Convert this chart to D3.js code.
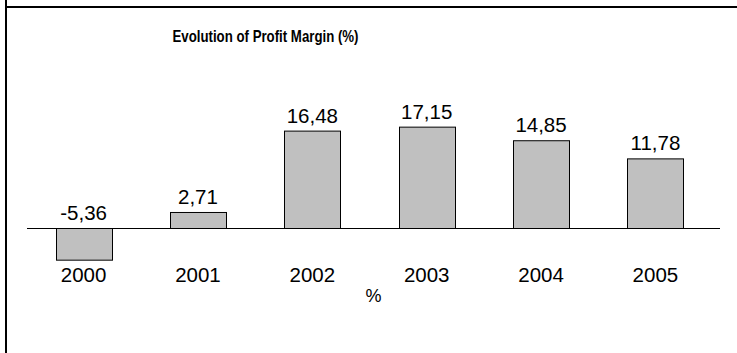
<!DOCTYPE html>
<html>
<head>
<meta charset="utf-8">
<script src="https://cdn.jsdelivr.net/npm/d3@7/dist/d3.min.js"></script>
<style>
  html, body { margin: 0; padding: 0; background: #fff; overflow: hidden; }
  svg { display: block; }
  text { font-family: "Liberation Sans", Arial, Helvetica, sans-serif; fill: #000; }
</style>
</head>
<body>
<svg id="chart" width="737" height="353"></svg>
<script>
// Profit margin by year (%)
const years = ["2000", "2001", "2002", "2003", "2004", "2005"];
const margins = [-5.36, 2.71, 16.48, 17.15, 14.85, 11.78];
const valueLabels = ["-5,36", "2,71", "16,48", "17,15", "14,85", "11,78"];
const chartTitle = "Evolution of Profit Margin (%)";
const axisTitle = "%";

const svg = d3.select("#chart");

// Frame lines along the top and left edges
svg.append("line")
  .attr("x1", 6).attr("x2", 6).attr("y1", 0).attr("y2", 353)
  .attr("stroke", "#000").attr("stroke-width", 2);
svg.append("line")
  .attr("x1", 6).attr("x2", 737).attr("y1", 7).attr("y2", 7)
  .attr("stroke", "#000").attr("stroke-width", 2);

// Scales
const x = d3.scaleBand()
  .domain(years)
  .range([27, 712])
  .paddingInner(0.51)
  .paddingOuter(0.25);

const y = d3.scaleLinear()
  .domain([-10, 20])
  .range([228.5 + 59.1, 228.5 - 118.2]);

// Title
svg.append("text")
  .attr("x", 265.5)
  .attr("y", 41.5)
  .attr("text-anchor", "middle")
  .attr("font-family", "'Liberation Sans Narrow', 'Arial Narrow', 'Liberation Sans', Arial, sans-serif")
  .attr("font-weight", "bold")
  .attr("font-size", 17)
  .attr("textLength", 186)
  .attr("lengthAdjust", "spacingAndGlyphs")
  .text(chartTitle);

const data = years.map((yr, i) => ({ year: yr, value: margins[i], label: valueLabels[i] }));

// Bars
svg.append("g")
  .selectAll("rect")
  .data(data)
  .join("rect")
  .attr("x", d => Math.round(x(d.year)) + 0.5)
  .attr("y", d => y(Math.max(0, d.value)))
  .attr("width", Math.round(x.bandwidth()))
  .attr("height", d => Math.abs(y(d.value) - y(0)))
  .attr("fill", "#c0c0c0")
  .attr("stroke", "#000")
  .attr("stroke-width", 1);

// Zero line
svg.append("line")
  .attr("x1", 27).attr("x2", 720)
  .attr("y1", y(0)).attr("y2", y(0))
  .attr("stroke", "#000").attr("stroke-width", 1);

// Value labels above each bar (or above the zero line for negatives)
svg.append("g")
  .selectAll("text")
  .data(data)
  .join("text")
  .attr("x", d => x(d.year) + x.bandwidth() / 2)
  .attr("y", d => y(Math.max(0, d.value)) - 8.5)
  .attr("text-anchor", "middle")
  .attr("font-size", 20.5)
  .text(d => d.label);

// Category axis labels
const xAxis = d3.axisBottom(x).tickSize(0).tickPadding(0);
const gx = svg.append("g")
  .attr("transform", `translate(0, ${281.5})`)
  .call(xAxis);
gx.select(".domain").remove();
gx.selectAll("text")
  .attr("dy", 0)
  .attr("font-size", 20.5)
  .attr("fill", "#000");
gx.attr("font-family", null).attr("font-size", null);

// Axis title
svg.append("text")
  .attr("x", 373.5)
  .attr("y", 301.5)
  .attr("text-anchor", "middle")
  .attr("font-size", 18)
  .text(axisTitle);
</script>
</body>
</html>
